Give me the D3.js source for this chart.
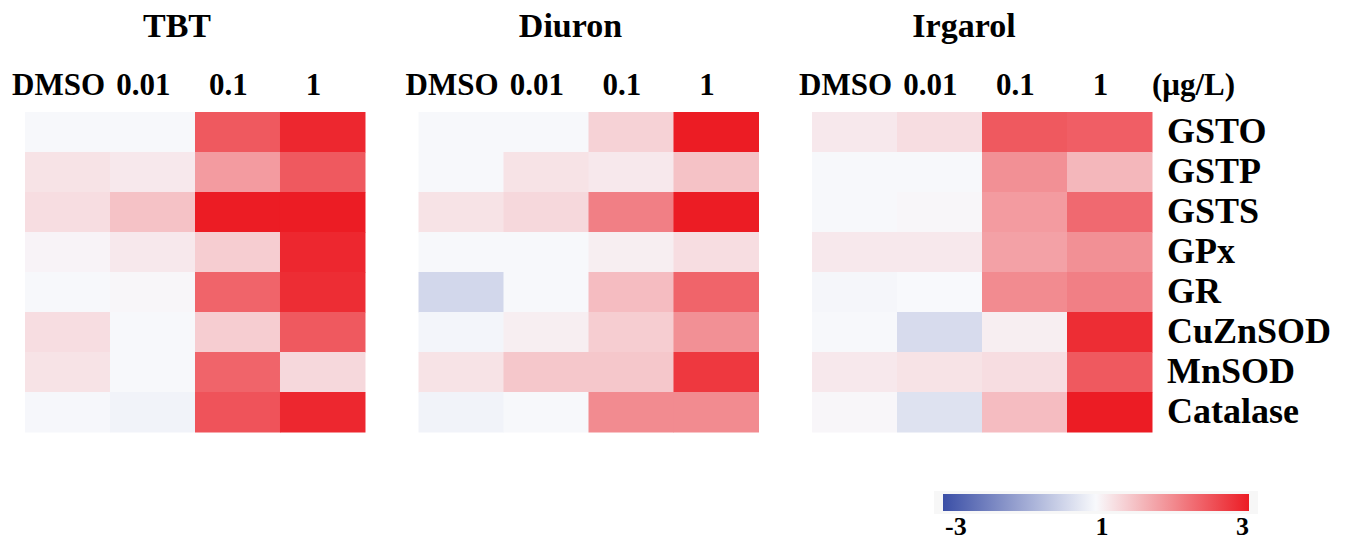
<!DOCTYPE html>
<html>
<head>
<meta charset="utf-8">
<script src="https://cdn.jsdelivr.net/npm/d3@7"></script>
<style>
  body { margin: 0; background: #fff; }
  text { font-family: "Liberation Serif", "Times New Roman", serif; font-weight: bold; fill: #000; }
</style>
</head>
<body>
<svg id="heatmap" width="1353" height="542"></svg>
<script>
// datos (fold change)
var chemicals = ["TBT", "Diuron", "Irgarol"];
var concentrations = ["DMSO", "0.01", "0.1", "1"];
var genes = ["GSTO", "GSTP", "GSTS", "GPx", "GR", "CuZnSOD", "MnSOD", "Catalase"];

var tbtValues = [
    [0.97, 0.97, 2.45, 2.9],
    [1.2, 1.15, 1.85, 2.45],
    [1.25, 1.5, 3.0, 3.0],
    [1.05, 1.15, 1.4, 2.9],
    [0.97, 1.03, 2.35, 2.85],
    [1.25, 0.97, 1.4, 2.45],
    [1.2, 0.97, 2.35, 1.3],
    [0.95, 0.85, 2.5, 2.9]
];
var diuronValues = [
    [0.97, 0.97, 1.35, 3.0],
    [0.97, 1.2, 1.15, 1.5],
    [1.2, 1.3, 2.1, 3.0],
    [0.97, 0.97, 1.1, 1.25],
    [0.2, 0.97, 1.55, 2.35],
    [0.9, 1.1, 1.4, 1.95],
    [1.2, 1.45, 1.45, 2.75],
    [0.85, 0.97, 2.0, 2.0]
];
var irgarolValues = [
    [1.15, 1.25, 2.45, 2.4],
    [0.97, 0.97, 1.95, 1.6],
    [0.97, 1.03, 1.85, 2.3],
    [1.15, 1.15, 1.8, 1.95],
    [0.93, 1.0, 2.0, 2.1],
    [0.97, 0.3, 1.1, 2.85],
    [1.15, 1.2, 1.25, 2.45],
    [1.03, 0.45, 1.55, 3.0]
];
var legendTicks = [-3, 1, 3];
var unitLabel = "(\u03bcg/L)";

function heatmap(){
    var svg = d3.select('#heatmap');
    var panelValues = {"TBT": tbtValues, "Diuron": diuronValues, "Irgarol": irgarolValues};

    var color = d3.scaleLinear()
        .domain([-3, 1, 3])
        .range(["#3b4fa6", "#f8f9fc", "#ec1c24"])
        .clamp(true);

    var panelScale = d3.scaleBand().domain(chemicals).range([25, 1152]).paddingInner(0.136);
    var yScale = d3.scaleBand().domain(genes).range([112, 432]);
    var xScale = d3.scaleBand().domain(concentrations).range([0, panelScale.bandwidth()]);

    chemicals.forEach(function(chem){
        var g = svg.append("g").attr("transform", "translate(" + panelScale(chem) + ",0)");

        // titulo
        g.append("text")
            .attr("x", panelScale.bandwidth() / 2 - 18)
            .attr("y", 37)
            .attr("text-anchor", "middle")
            .attr("font-size", "34px")
            .text(chem);

        // concentraciones
        g.selectAll(".col-label")
            .data(concentrations)
            .enter().append("text")
            .attr("class", "col-label")
            .attr("x", function(d){ return xScale(d) + xScale.bandwidth() / 2 - 9; })
            .attr("y", 95)
            .attr("text-anchor", "middle")
            .attr("font-size", "31px")
            .text(function(d){ return d; });

        var cells = [];
        panelValues[chem].forEach(function(row, i){
            row.forEach(function(v, j){
                cells.push({gene: genes[i], conc: concentrations[j], value: v});
            });
        });

        g.selectAll(".cell")
            .data(cells)
            .enter().append("rect")
            .attr("class", "cell")
            .attr("x", function(d){ return xScale(d.conc); })
            .attr("y", function(d){ return yScale(d.gene); })
            .attr("width", xScale.bandwidth() + 0.5)
            .attr("height", yScale.bandwidth() + 0.5)
            .attr("fill", function(d){ return color(d.value); });
    });

    var right = panelScale("Irgarol") + panelScale.bandwidth();

    svg.append("text")
        .attr("x", right)
        .attr("y", 95)
        .attr("font-size", "31px")
        .text(unitLabel);

    // nombres de genes
    svg.selectAll(".row-label")
        .data(genes)
        .enter().append("text")
        .attr("class", "row-label")
        .attr("x", right + 15)
        .attr("y", function(d){ return yScale(d) + yScale.bandwidth() / 2; })
        .attr("dy", "0.3em")
        .attr("font-size", "36px")
        .text(function(d){ return d; });

    /* Leyenda */
    var legendScale = d3.scaleLinear().domain(legendTicks).range([943, 1096, 1249]);

    var grad = svg.append("defs").append("linearGradient")
        .attr("id", "legend-grad")
        .attr("x1", "0%").attr("x2", "100%");
    d3.range(0, 1.0001, 0.05).forEach(function(t){
        var px = 943 + t * 306;
        grad.append("stop")
            .attr("offset", (t * 100) + "%")
            .attr("stop-color", color(legendScale.invert(px)));
    });

    svg.append("rect")
        .attr("x", 934).attr("y", 491)
        .attr("width", 324).attr("height", 23)
        .attr("fill", "#f7f7f7");

    svg.append("rect")
        .attr("x", legendScale(-3))
        .attr("y", 494)
        .attr("width", legendScale(3) - legendScale(-3))
        .attr("height", 17)
        .attr("fill", "url(#legend-grad)");

    svg.selectAll(".legend-label")
        .data(legendTicks)
        .enter().append("text")
        .attr("class", "legend-label")
        .attr("x", function(d, i){ return legendScale(d) + (i == 0 ? 2 : (i == 1 ? 6 : 0)); })
        .attr("y", 535)
        .attr("text-anchor", function(d, i){ return i == 0 ? "start" : (i == legendTicks.length - 1 ? "end" : "middle"); })
        .attr("font-size", "26px")
        .text(function(d){ return d; });
}

heatmap();
</script>
</body>
</html>
